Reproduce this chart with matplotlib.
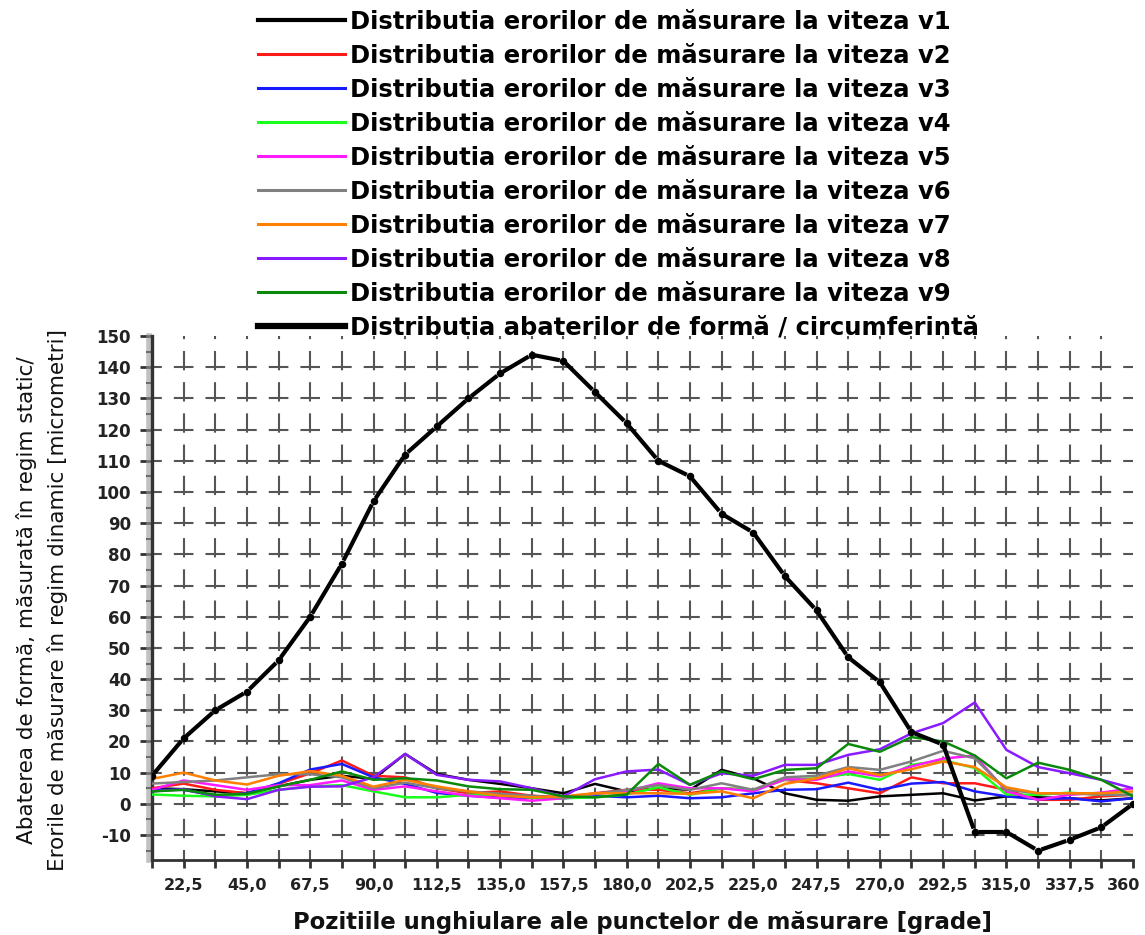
import numpy as np
import matplotlib
matplotlib.use("Agg")
import matplotlib.pyplot as plt
from matplotlib.lines import Line2D
from matplotlib.ticker import FixedLocator
from matplotlib.transforms import ScaledTranslation
import matplotlib.patheffects as pe

plt.rcParams['font.family'] = ['DejaVu Sans']
plt.rcParams['lines.scale_dashes'] = False

# Measurement positions [degrees]
angles = [11.25, 22.5, 33.75, 45.0, 56.25, 67.5, 78.75, 90.0,
          101.25, 112.5, 123.75, 135.0, 146.25, 157.5, 168.75, 180.0,
          191.25, 202.5, 213.75, 225.0, 236.25, 247.5, 258.75, 270.0,
          281.25, 292.5, 303.75, 315.0, 326.25, 337.5, 348.75, 360.0]

# Form deviation along the circumference (static regime) [micrometri]
form_dev = [9, 21, 30, 36, 46, 60, 77, 97, 112, 121, 130, 138, 144, 142, 132, 122,
            110, 105, 93, 87, 73, 62, 47, 39, 23, 19, -9, -9, -15, -11.5, -7.5, 0]

# Measurement errors at speeds v1..v9 (dynamic regime) [micrometri]
err_v1 = [5, 4.7, 4, 3.4, 5.6, 7.7, 9, 8, 16, 9.6, 7.7, 6.4, 5, 3.4, 6.4, 4,
          5, 4.5, 10.9, 8.2, 3.4, 1.3, 1, 2.4, 2.9, 3.4, 1.1, 2.4, 2.1, 1.8, 1.1, 1.8]
err_v2 = [5, 6.5, 4.5, 3.4, 6.4, 9.8, 13.9, 9, 8.5, 5, 3.4, 4, 2.6, 2.1, 3.4, 4.5,
          4.5, 3.4, 5, 4.5, 7.7, 6.6, 5, 3.4, 8.5, 6.6, 6.6, 4.5, 1.3, 1.3, 2.4, 2.9]
err_v3 = [4.5, 4.5, 2.6, 3.4, 6.6, 11, 12.8, 8.5, 6.4, 3.5, 2.6, 2, 2, 1.8, 2.6, 2.1,
          2.6, 1.8, 2.1, 3.4, 4.5, 4.7, 6.8, 4.5, 6.5, 7, 4, 2.4, 1.5, 1.8, 0.8, 1.8]
err_v4 = [3, 2.6, 2.4, 2.9, 4.5, 5.6, 6, 4, 2.1, 2.1, 2.9, 2.9, 2, 1.8, 2.1, 3,
          5.3, 2.9, 5, 4.5, 7.7, 8.2, 9.6, 7.7, 12.5, 14, 11.5, 3, 2.9, 3.6, 2.9, 2.9]
err_v5 = [4.5, 7.5, 6, 4.5, 6, 6, 7.5, 4.5, 5.6, 4, 2.6, 1.8, 1, 1.8, 3.2, 4,
          6.6, 5, 5, 4, 7.9, 7.7, 10.4, 8.8, 12, 14.5, 15.5, 4, 1.3, 2.9, 3.6, 5]
err_v6 = [6.5, 7, 7.5, 8.5, 9.5, 9.5, 8.5, 5, 6.8, 5, 4, 3.2, 2.6, 1.8, 3.2, 4.5,
          6, 4.5, 6.6, 4.5, 8.5, 9, 11.8, 10.9, 13.6, 17, 14.6, 4.5, 3.4, 3.4, 2.9, 2.9]
err_v7 = [8, 10, 7.5, 6.2, 9, 10.5, 9, 5.5, 7.7, 5.6, 4, 2.6, 2.1, 2.4, 3.4, 3.4,
          3.4, 3.2, 4, 1.8, 6.4, 8.2, 11.4, 9.2, 11.1, 13.6, 11.8, 5.3, 3.4, 3.4, 3.4, 4]
err_v8 = [4, 4.7, 2.4, 1.5, 4.5, 5.5, 5.6, 8.5, 16, 9.3, 7.7, 7.2, 5, 2.4, 7.9, 10.4,
          11, 6.1, 9.8, 9, 12.5, 12.5, 15.7, 17.5, 22.6, 25.9, 32.5, 17.3, 11.8, 9.8, 7.7, 5]
err_v9 = [4, 4.5, 2.9, 3.2, 5.6, 7.7, 10.4, 7.7, 8.2, 7.5, 5.6, 4.7, 4.5, 2.4, 2.1, 3,
          12.8, 6.1, 10.4, 7.9, 10.9, 11.4, 19.2, 16.7, 21.4, 20, 15.5, 8.2, 13.2, 10.9, 7.7, 2.4]

speed_series = [err_v1, err_v2, err_v3, err_v4, err_v5, err_v6, err_v7, err_v8, err_v9]
speed_colors = ['#000000', '#ff1a1a', '#1a1aff', '#1aff1a', '#ff1aff',
                '#808080', '#ff7f00', '#8a1aff', '#0a8a0a']
speed_labels = ['Distributia erorilor de măsurare la viteza v%d' % k for k in range(1, 10)]
form_label = 'Distributia abaterilor de formă / circumferintă'

x_major = [22.5, 45.0, 67.5, 90.0, 112.5, 135.0, 157.5, 180.0, 202.5, 225.0,
           247.5, 270.0, 292.5, 315.0, 337.5, 360.0]
x_major_labels = ['22,5', '45,0', '67,5', '90,0', '112,5', '135,0', '157,5', '180,0',
                  '202,5', '225,0', '247,5', '270,0', '292,5', '315,0', '337,5', '360']
x_minor = [11.25, 33.75, 56.25, 78.75, 101.25, 123.75, 146.25, 168.75, 191.25,
           213.75, 236.25, 258.75, 281.25, 303.75, 326.25, 348.75]
y_major = [-10, 0, 10, 20, 30, 40, 50, 60, 70, 80, 90, 100, 110, 120, 130, 140, 150]
y_minor = [-15, -5, 5, 15, 25, 35, 45, 55, 65, 75, 85, 95, 105, 115, 125, 135, 145]

W, H, DPI = 1145, 935, 100
fig = plt.figure(figsize=(W / DPI, H / DPI), dpi=DPI)
ax = fig.add_axes([152 / W, 1 - 860 / H, (1133 - 152) / W, (860 - 336) / H])
ax.set_xlim(11.25, 360)
ax.set_ylim(-18, 150)

# grid spacing in points, so the dashes repeat once per cell
to_pt = 72.0 / DPI
p00 = ax.transData.transform((11.25, 0))
p11 = ax.transData.transform((22.5, 10))
cell_x = (p11[0] - p00[0]) * to_pt
cell_y = (p11[1] - p00[1]) * to_pt
dash_x = 0.62 * cell_x
dash_y = 0.62 * cell_y
grid_col = '#555555'
ax.hlines(y_major[:-1], 11.25, 360, colors=grid_col, linewidth=1.5,
          linestyles=[(dash_x / 2, (dash_x, cell_x - dash_x))], zorder=1)
ax.vlines(x_minor[1:] + x_major[:-1], -18, 150, colors=grid_col, linewidth=1.5,
          linestyles=[(0.3 * cell_y, (dash_y, cell_y - dash_y))], zorder=1)

# speed series
for vals, col in zip(speed_series, speed_colors):
    ax.plot(angles, vals, color=col, linewidth=1.8, solid_joinstyle='round', zorder=3)

# form deviation: each segment is a dash, with a dot at every measurement point
gap = 2.6
for i in range(len(angles) - 1):
    a = ax.transData.transform((angles[i], form_dev[i]))
    b = ax.transData.transform((angles[i + 1], form_dev[i + 1]))
    seg = np.hypot(*(b - a)) * to_pt
    on = max(seg - 2 * gap, 0.5)
    ax.plot(angles[i:i + 2], form_dev[i:i + 2], color='black', linewidth=3.0,
            linestyle=(seg - gap, (on, 2 * gap)), zorder=5)
ax.plot(angles, form_dev, linestyle='none', marker='o', markersize=4.4,
        color='black', zorder=6)

# axes styling
for side in ('top', 'right'):
    ax.spines[side].set_visible(False)
ax.spines['left'].set_linewidth(2.4)
ax.spines['left'].set_color('#333333')
ax.spines['left'].set_path_effects([pe.SimpleLineShadow(offset=(-2.5, 0), shadow_color='#999999',
                                                        alpha=0.6, linewidth=4), pe.Normal()])
ax.spines['bottom'].set_linewidth(2.0)
ax.spines['bottom'].set_color('#333333')

ax.xaxis.set_major_locator(FixedLocator(x_major))
ax.xaxis.set_minor_locator(FixedLocator(x_minor))
ax.set_xticklabels(x_major_labels, fontsize=11.5, fontweight='bold', color='#222222')
ax.yaxis.set_major_locator(FixedLocator(y_major))
ax.yaxis.set_minor_locator(FixedLocator(y_minor))
ax.set_yticklabels([str(v) for v in y_major], fontsize=12, fontweight='bold', color='#222222')
ax.tick_params(axis='x', which='both', direction='out', length=6, width=2, color='#333333', pad=7)
ax.tick_params(axis='y', which='major', direction='out', length=9, width=2, color='#333333', pad=6)
ax.tick_params(axis='y', which='minor', direction='out', length=4, width=1.5, color='#333333')

# the last angle label sits just inside the right edge
last = ax.get_xticklabels()[-1]
last.set_horizontalalignment('right')
last.set_transform(last.get_transform() + ScaledTranslation(7 / DPI, 0, fig.dpi_scale_trans))

fig.text(642.5 / W, 1 - 922 / H, 'Pozitiile unghiulare ale punctelor de măsurare [grade]',
         ha='center', va='center', fontsize=16.4, fontweight='bold', color='#111111')
fig.text(42 / W, 1 - 600 / H,
         'Abaterea de formă, măsurată în regim static/\nErorile de măsurare în regim dinamic [micrometri]',
         rotation=90, ha='center', va='center', fontsize=15.5, linespacing=1.6,
         multialignment='center', color='#111111')

# legend above the plot
handles = [Line2D([], [], color=speed_colors[0], linewidth=3.0)]
handles += [Line2D([], [], color=c, linewidth=2.2) for c in speed_colors[1:]]
handles.append(Line2D([], [], color='black', linewidth=4.5))
labels = speed_labels + [form_label]
fs = 17.5
fs_px = fs / 72 * DPI
fig.legend(handles, labels, loc='upper left', bbox_to_anchor=(258 / W, 1 - 10 / H),
           frameon=False, borderpad=0, borderaxespad=0,
           prop={'weight': 'bold', 'size': fs},
           handlelength=87 / fs_px, handletextpad=5 / fs_px, labelspacing=0.41)

fig.savefig('out.png', dpi=DPI, facecolor='white')
